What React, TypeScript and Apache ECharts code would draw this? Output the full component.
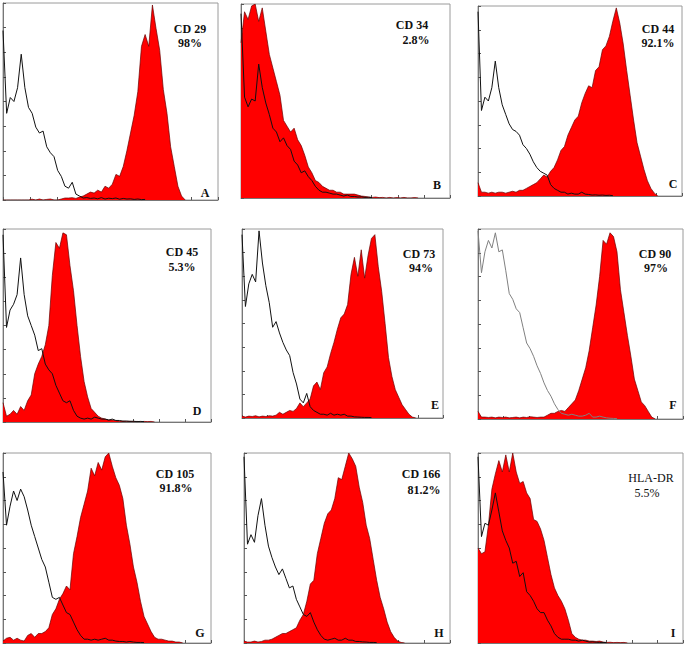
import React, { useEffect, useRef } from "react";
import * as echarts from "echarts";

// ---- labels ----
const markers = ["CD 29", "CD 34", "CD 44", "CD 45", "CD 73", "CD 90", "CD 105", "CD 166", "HLA-DR"];
const percents = ["98%", "2.8%", "92.1%", "5.3%", "94%", "97%", "91.8%", "81.2%", "5.5%"];
const letters = ["A", "B", "C", "D", "E", "F", "G", "H", "I"];

// ---- histogram counts (% of panel max), 60 channels; ctrl = isotype control, red = stained ----
const ctrlA = [86, 44, 52, 50, 57, 74, 57, 47, 44, 37, 34, 35, 27, 24, 22, 15, 12, 7, 6, 9, 3, 2, 1, 1.2, 0.8, 1, 0.6, 1.2, 0.5, 0.9, 0.7, 1, 0.4, 0.8, 0.5, 0.6, 0.3, 0.5, 0.2, 0.3];
const redA = [0, 0, 0, 0, 0, 0, 0, 0, 0.4, 0, 0.5, 0, 0.3, 0.5, 0, 0, 0.5, 1, 1, 1.2, 0.8, 1.5, 2, 3, 4, 3.5, 5, 4, 7, 6, 8, 13, 12, 17, 25, 34, 43, 55, 78, 84, 78, 99, 87, 76, 56, 44, 27, 17, 7, 2, 0];

const ctrlB = [95, 52, 47, 51, 50, 69, 57, 49, 43, 36, 34, 29, 31, 27, 25, 19, 17, 13, 14, 11, 9, 6, 4, 3, 3, 2.5, 2, 2, 1.5, 1, 1.5, 0.8, 0.8, 0.5, 0.6, 0.3, 0.4, 0.2];
const redB = [80, 96, 92, 99, 100, 91, 98, 86, 74, 67, 60, 53, 40, 37, 34, 36, 30, 27, 22, 16, 13, 9, 8, 6, 5, 4, 4, 3, 3, 2, 2, 2, 2, 1.5, 1, 0.8, 0.5, 0.3, 0.5, 0.2, 0.3, 0, 0.3, 0, 0.2, 0, 0.3, 0, 0, 0.2, 0];

const ctrlC = [97, 45, 52, 50, 57, 71, 57, 48, 43, 38, 35, 34, 32, 27, 25, 22, 18, 15, 13, 12, 11, 6, 4, 3, 2, 2, 1, 1.5, 1, 1, 2, 1, 0.8, 0.5, 0.6, 0.4, 0.5, 0.3, 0.4, 0.2];
const redC = [7, 2, 2, 1.5, 2, 1.5, 2, 2, 1.5, 2, 2.5, 2, 3, 3, 4, 5, 6, 7, 9, 11, 10, 13, 15, 19, 24, 26, 32, 36, 40, 42, 49, 54, 58, 57, 66, 68, 77, 79, 84, 92, 99, 91, 80, 66, 53, 40, 28, 21, 14, 8, 4, 1.5, 0];

const ctrlD = [97, 49, 58, 61, 66, 85, 66, 55, 50, 45, 37, 38, 30, 27, 25, 19, 15, 11, 10, 11, 6, 3, 2, 1.5, 2, 1.5, 2.5, 2, 1.5, 1.5, 1, 1.5, 0.8, 0.8, 0.4, 0.5, 0.3, 0.4, 0.2, 0.3, 0.2];
const redD = [10, 3, 4, 6, 4, 8, 6, 11, 14, 25, 30, 34, 40, 50, 76, 93, 90, 98, 97, 81, 68, 50, 34, 21, 13, 7, 5, 3, 2, 1.5, 1, 1, 0.7, 0.4, 0.5, 0.3, 0.4, 0.2, 0.3, 0.2, 0.3, 0.2, 0.3, 0];

const ctrlE = [97, 59, 71, 76, 72, 99, 82, 70, 61, 48, 51, 45, 40, 36, 33, 24, 18, 10, 8, 13, 6, 4, 3, 2, 2, 1.5, 2.5, 1.5, 2, 1.5, 2, 1, 1, 0.6, 0.5, 0.4, 0.3, 0.3, 0.2];
const redE = [1, 0.5, 1, 0.8, 1.2, 0.6, 1, 0.8, 1.2, 1, 1.5, 3, 2, 3, 4, 3.5, 5, 8, 6, 8, 10, 17, 19, 15, 24, 27, 34, 40, 47, 53, 55, 60, 76, 85, 75, 89, 74, 86, 95, 97, 80, 67, 50, 32, 22, 15, 11, 7, 4.5, 2, 0.5, 0];

const ctrlF = [99, 77, 88, 94, 90, 98, 88, 89, 78, 66, 63, 58, 56, 48, 40, 37, 33, 28, 24, 19, 15, 12, 8, 5, 3, 2.5, 2, 2.5, 2, 1.5, 1.5, 2, 3, 1, 1, 1.5, 1, 0.6, 0.4, 0.3, 0.2];
const redF = [4, 1, 1, 0.8, 1, 0.6, 1, 0.8, 1, 0.6, 0.8, 1, 0.6, 1, 0.8, 1.2, 1, 0.8, 1, 1, 2, 3, 3, 4, 4.5, 4, 6, 8, 10, 15, 21, 27, 36, 48, 60, 75, 94, 92, 98, 96, 88, 68, 56, 44, 33, 21, 15, 9, 7, 4, 1, 0];

const ctrlG = [90, 62, 72, 80, 75, 81, 77, 70, 62, 56, 50, 44, 40, 32, 24, 23, 24, 20, 16, 15, 11, 7, 4, 2, 2, 1.5, 2, 1.5, 2, 2.5, 1.5, 1.5, 1, 0.8, 0.8, 0.5, 0.8, 0.5, 0.3, 0.3, 0.2];
const redG = [1, 2.5, 3, 1.5, 2.5, 1.5, 1, 4, 5, 3, 5, 5, 6, 8, 15, 18, 23, 26, 30, 28, 47, 56, 66, 73, 80, 92, 88, 95, 91, 98, 100, 93, 87, 83, 76, 62, 52, 40, 32, 22, 14, 10, 6, 3, 2, 2, 1.5, 1, 1, 0.5, 0.5, 0];

const ctrlH = [98, 52, 57, 53, 67, 76, 62, 51, 45, 40, 36, 39, 34, 29, 30, 23, 19, 15, 14, 16, 11, 7, 4, 2, 1.5, 2, 2.5, 1.5, 1.5, 2.5, 1.5, 1.5, 0.8, 0.8, 0.6, 0.5, 0.3, 0.3, 0.2];
const redH = [1, 0.5, 0.5, 1, 0.5, 0.8, 1.5, 1.5, 2, 3, 4, 5, 5, 6, 7, 8, 12, 15, 22, 31, 33, 47, 55, 63, 68, 70, 76, 87, 86, 93, 100, 97, 93, 82, 74, 62, 55, 44, 33, 24, 18, 11, 6, 3, 1, 0.3, 0];

const ctrlI = [98, 56, 63, 62, 70, 79, 69, 59, 54, 50, 42, 43, 35, 37, 27, 25, 22, 18, 16, 16, 12, 9, 5, 3, 2, 2, 2, 1.5, 1.5, 1, 1.5, 1, 0.5, 0.6, 0.4, 0.3, 0.3, 0.2];
const redI = [50, 47, 48, 62, 81, 89, 96, 90, 99, 90, 100, 90, 84, 85, 79, 76, 65, 64, 60, 54, 45, 36, 29, 25, 22, 18, 12, 5, 3, 2, 1.5, 1.5, 1, 1, 0.8, 1, 0.5, 0.3, 0.4, 0.2, 0.3, 0.2, 0.3, 0];

const ctrlSeries = [ctrlA, ctrlB, ctrlC, ctrlD, ctrlE, ctrlF, ctrlG, ctrlH, ctrlI];
const redSeries = [redA, redB, redC, redD, redE, redF, redG, redH, redI];

// ---- layout (pixel boxes and label anchors) ----
const boxes = [
  { left: 3, top: 3, width: 215, height: 197, lx: 190, ly: 29, px: 190, py: 43, cx: 205, cy: 193, bold: true },
  { left: 241, top: 4, width: 209, height: 194, lx: 412, ly: 25, px: 416, py: 40, cx: 437, cy: 185, bold: true },
  { left: 478, top: 6, width: 204, height: 190, lx: 658, ly: 29, px: 658, py: 43, cx: 673, cy: 184, bold: true },
  { left: 3, top: 229, width: 208, height: 193, lx: 182, ly: 252, px: 182, py: 267, cx: 197, cy: 411, bold: true },
  { left: 242, top: 229, width: 201, height: 189, lx: 419, ly: 254, px: 421, py: 268, cx: 435, cy: 405, bold: true },
  { left: 478, top: 229, width: 205, height: 190, lx: 655, ly: 254, px: 656, py: 268, cx: 673, cy: 405, bold: true },
  { left: 3, top: 453, width: 208, height: 190, lx: 175, ly: 474, px: 176, py: 488, cx: 200, cy: 633, bold: true },
  { left: 244, top: 453, width: 206, height: 190, lx: 421, ly: 474, px: 424, py: 490, cx: 439, cy: 633, bold: true },
  { left: 478, top: 453, width: 205, height: 190, lx: 651, ly: 478, px: 647, py: 493, cx: 673, cy: 633, bold: false },
];

const CHANNELS = 59;

export default function App() {
  const ref = useRef<HTMLDivElement>(null);
  useEffect(() => {
    if (!ref.current) return;
    const chart = echarts.init(ref.current, undefined, { renderer: "svg" });
    const grid: any[] = [];
    const xAxis: any[] = [];
    const yAxis: any[] = [];
    const series: any[] = [];
    const graphic: any[] = [];
    const font = '"Liberation Serif", "DejaVu Serif", serif';
    boxes.forEach((b, k) => {
      grid.push({
        left: b.left, top: b.top, width: b.width, height: b.height,
        show: true, borderColor: "#9a9a9a", borderWidth: 1, backgroundColor: "#fff",
      });
      const axisCommon = {
        gridIndex: k,
        type: "value",
        axisLabel: { show: false },
        splitLine: { show: false },
        axisLine: { show: true, lineStyle: { color: "#777", width: 1 } },
        axisTick: { show: true, inside: true, length: 3, lineStyle: { color: "#555" } },
      };
      xAxis.push({ ...axisCommon, min: 0, max: CHANNELS, interval: CHANNELS / 8 });
      yAxis.push({ ...axisCommon, min: 0, max: 100, interval: 12.5 });
      series.push({
        type: "line",
        xAxisIndex: k, yAxisIndex: k,
        data: redSeries[k].map((v, i) => [i, v]),
        showSymbol: false, symbol: "none",
        lineStyle: { color: "#6a0000", width: 0.7 },
        areaStyle: { color: "#ff0000", opacity: 1 },
        z: 2,
      });
      series.push({
        type: "line",
        xAxisIndex: k, yAxisIndex: k,
        data: ctrlSeries[k].map((v, i) => [i, v]),
        showSymbol: false, symbol: "none",
        lineStyle: { color: k === 5 ? "#808080" : "#111", width: 1 },
        z: 3,
      });
      const txt = (x: number, y: number, text: string, bold: boolean) => ({
        type: "text", x, y, z: 10,
        style: {
          text, fill: "#111", fontFamily: font, fontSize: 12, fontWeight: bold ? "bold" : "normal",
          align: "center", verticalAlign: "middle", textAlign: "center", textVerticalAlign: "middle",
        },
      });
      graphic.push(txt(b.lx, b.ly, markers[k], b.bold));
      graphic.push(txt(b.px, b.py, percents[k], b.bold));
      graphic.push(txt(b.cx, b.cy, letters[k], true));
    });
    chart.setOption({
      animation: false,
      backgroundColor: "#fff",
      grid, xAxis, yAxis, series, graphic,
    });
    return () => chart.dispose();
  }, []);
  return (
    <div
      ref={ref}
      style={{ position: "absolute", left: 0, top: 0, width: 685, height: 647, background: "#fff" }}
    />
  );
}
